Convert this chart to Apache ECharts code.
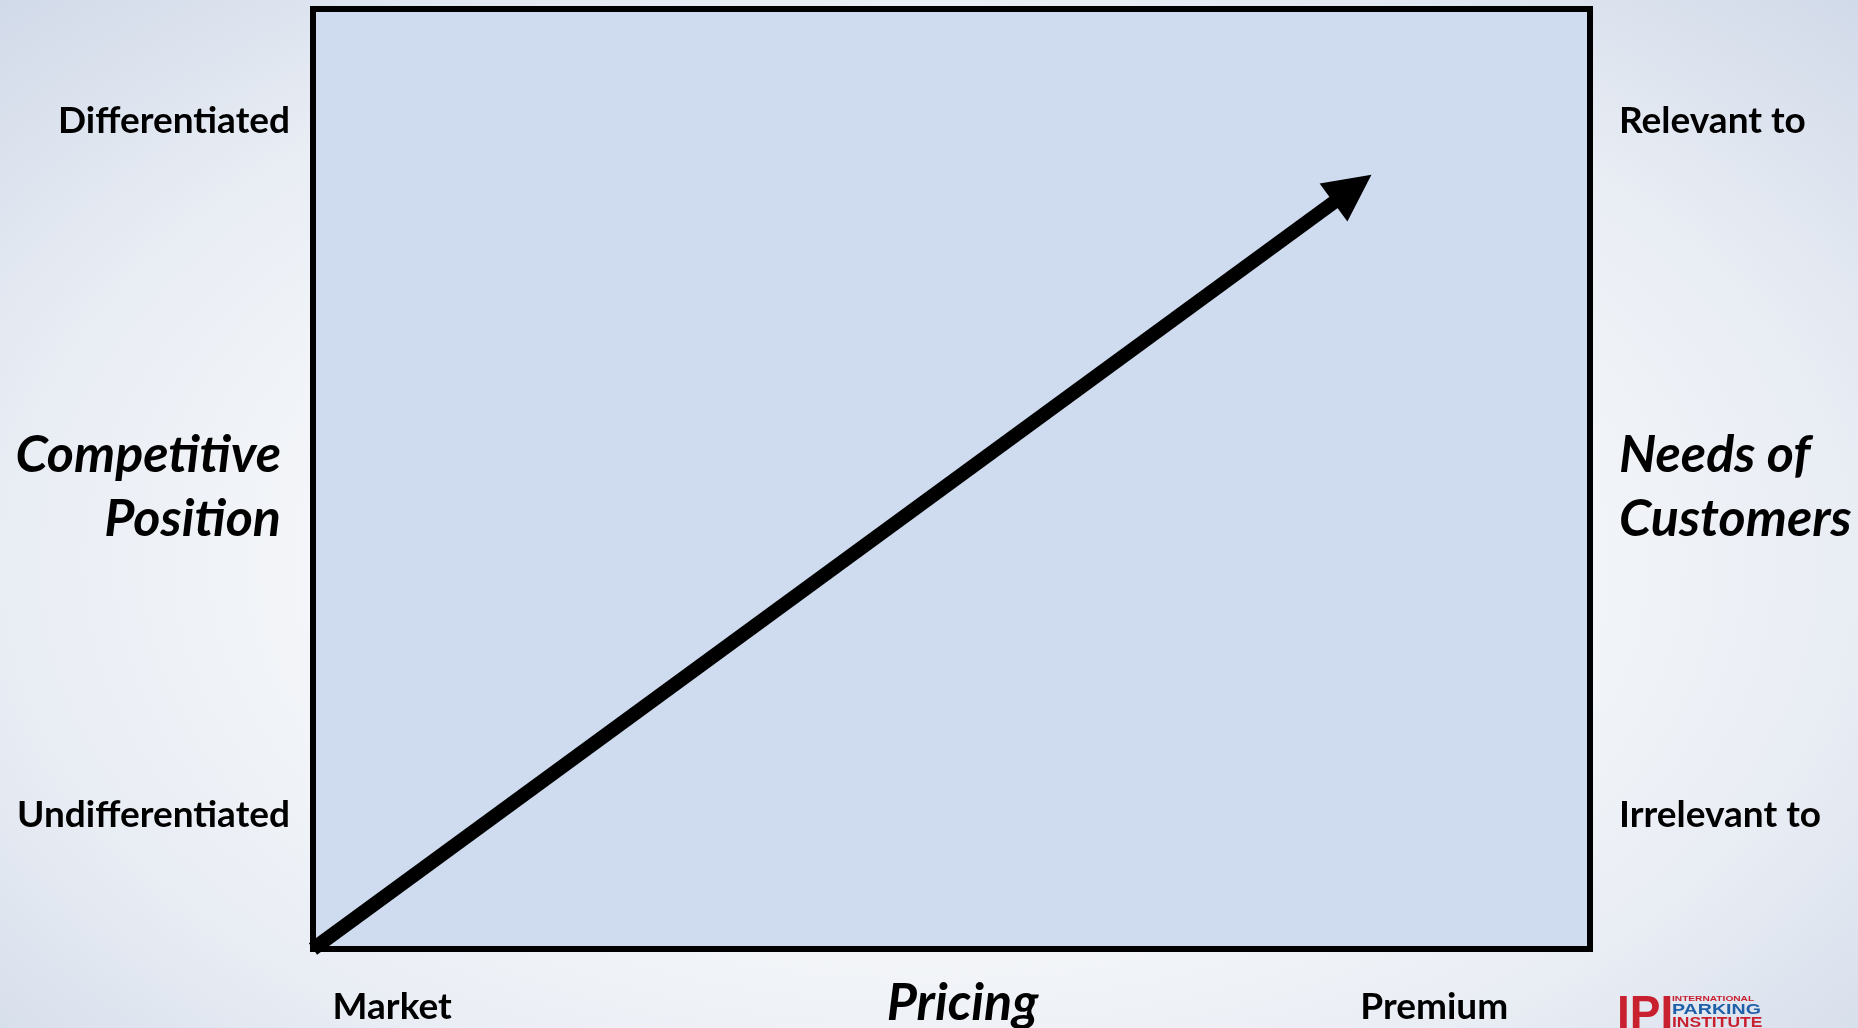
<!DOCTYPE html>
<html>
<head>
<meta charset="utf-8">
<title>Pricing vs Competitive Position</title>
<script src="https://cdn.jsdelivr.net/npm/echarts@6/dist/echarts.min.js"></script>
<style>
	html, body {
		margin: 0;
		padding: 0;
		width: 1858px;
		height: 1028px;
		overflow: hidden;
		background: radial-gradient(ellipse farthest-corner at 50% 55%, #ffffff 0%, #f4f6f9 45%, #e9edf4 70%, #d1dae9 100%);
	}
	#main {
		width: 1858px;
		height: 1028px;
	}
</style>
</head>
<body>
<div id="main"></div>
<script>
	// tick labels and positions (axes run 0..100)
	var leftLabels = ['Undifferentiated', 'Differentiated'];
	var rightLabels = ['Irrelevant to', 'Relevant to'];
	var yTickVals = [14.3, 88.1];
	var bottomLabels = ['Market', 'Premium'];
	var xTickVals = [6.2, 87.8];

	// the arrow: start point and end point
	var arrowFrom = [0, 0];
	var arrowTo = [81.4, 80.9];

	var labelFont = {
		fontFamily: 'Lato',
		fontWeight: 'bold',
		fontSize: 37,
		color: '#000'
	};
	var nameFont = {
		fontFamily: 'Lato',
		fontWeight: 'bold',
		fontStyle: 'italic',
		fontSize: 52,
		lineHeight: 64,
		color: '#000'
	};
	// rich styles: a small empty first line nudges the two-line names down a bit
	var nameRich = {
		s: { fontSize: 1, lineHeight: 16 },
		t: nameFont
	};

	var myChart = echarts.init(document.getElementById('main'));
	var options = {
		backgroundColor: 'transparent',
		animation: false,
		grid: {
			left: 313,
			right: 268,
			top: 9,
			bottom: 79,
			outerBoundsMode: 'none',
			containLabel: false,
			show: true,
			backgroundColor: '#cfdcef',
			borderColor: '#000',
			borderWidth: 6
		},
		xAxis: {
			type: 'value',
			min: 0,
			max: 100,
			name: 'Pricing',
			nameLocation: 'middle',
			nameGap: 22,
			nameMoveOverlap: false,
			nameTextStyle: Object.assign({}, nameFont, { verticalAlign: 'top', padding: [0, 0, 0, 22] }),
			axisLine: { show: false },
			axisTick: { show: false },
			splitLine: { show: false },
			axisLabel: Object.assign({}, labelFont, {
				customValues: xTickVals,
				margin: 40,
				formatter: function(v) {
					return bottomLabels[xTickVals.indexOf(v)] || '';
				}
			})
		},
		yAxis: [{
			type: 'value',
			position: 'left',
			min: 0,
			max: 100,
			name: '{s| }\n{t|Competitive}\n{t|Position}',
			nameLocation: 'middle',
			nameRotate: 0,
			nameGap: 32,
			nameMoveOverlap: false,
			nameTextStyle: Object.assign({}, nameFont, { align: 'right', rich: nameRich }),
			axisLine: { show: false },
			axisTick: { show: false },
			splitLine: { show: false },
			axisLabel: Object.assign({}, labelFont, {
				customValues: yTickVals,
				margin: 23,
				formatter: function(v) {
					return leftLabels[yTickVals.indexOf(v)] || '';
				}
			})
		}, {
			type: 'value',
			position: 'right',
			min: 0,
			max: 100,
			name: '{s| }\n{t|Needs of}\n{t|Customers}',
			nameLocation: 'middle',
			nameRotate: 0,
			nameGap: 29,
			nameMoveOverlap: false,
			nameTextStyle: Object.assign({}, nameFont, { align: 'left', rich: nameRich }),
			axisLine: { show: false },
			axisTick: { show: false },
			splitLine: { show: false },
			axisLabel: Object.assign({}, labelFont, {
				customValues: yTickVals,
				margin: 29,
				formatter: function(v) {
					return rightLabels[yTickVals.indexOf(v)] || '';
				}
			})
		}],
		series: [{
			type: 'lines',
			coordinateSystem: 'cartesian2d',
			xAxisIndex: 0,
			yAxisIndex: 0,
			symbol: ['none', 'triangle'],
			symbolSize: 47,
			lineStyle: {
				color: '#000',
				width: 14,
				opacity: 1
			},
			itemStyle: { color: '#000' },
			data: [{ coords: [arrowFrom, arrowTo] }]
		}],
		graphic: [{
			type: 'text',
			left: 1617,
			top: 992,
			style: {
				text: 'IPI',
				font: 'bold 46px "Liberation Sans"',
				fill: '#c8202f'
			}
		}, {
			type: 'text',
			left: 1672,
			top: 996,
			style: {
				text: 'INTERNATIONAL',
				font: 'bold 7px "Liberation Sans"',
				fill: '#c8202f'
			},
			scaleX: 1.45
		}, {
			type: 'text',
			left: 1672,
			top: 1003,
			style: {
				text: 'PARKING',
				font: 'bold 14px "Liberation Sans"',
				fill: '#1f5fa8'
			},
			scaleX: 1.4
		}, {
			type: 'text',
			left: 1672,
			top: 1016,
			style: {
				text: 'INSTITUTE',
				font: 'bold 14px "Liberation Sans"',
				fill: '#c8202f'
			},
			scaleX: 1.25
		}]
	};
	myChart.setOption(options);
</script>
</body>
</html>
